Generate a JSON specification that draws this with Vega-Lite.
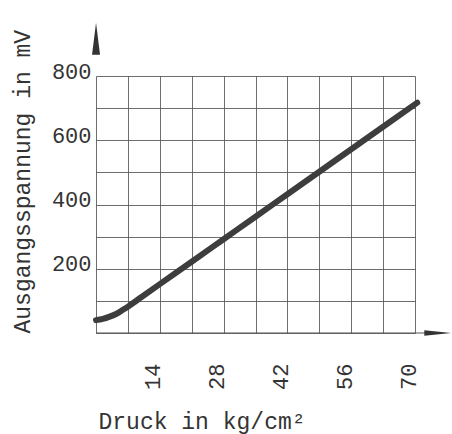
{
  "$schema": "https://vega.github.io/schema/vega-lite/v6.json",
  "autosize": "none",
  "width": 319,
  "height": 257,
  "padding": {"left": 96, "top": 76, "right": 37, "bottom": 101},
  "background": "white",
  "config": {
    "view": {"stroke": null},
    "font": "Liberation Mono",
    "axis": {"labelFont": "Liberation Mono", "titleFont": "Liberation Mono", "labelColor": "#333", "titleColor": "#333", "titleFontWeight": "normal"}
  },
  "datasets": {
    "curve": [
      {"druck": 0, "spannung": 40},
      {"druck": 1.5, "spannung": 44},
      {"druck": 3, "spannung": 51},
      {"druck": 4.5, "spannung": 60},
      {"druck": 6, "spannung": 73},
      {"druck": 7, "spannung": 82},
      {"druck": 10, "spannung": 112},
      {"druck": 14, "spannung": 152},
      {"druck": 21, "spannung": 222},
      {"druck": 28, "spannung": 292},
      {"druck": 35, "spannung": 362},
      {"druck": 42, "spannung": 432},
      {"druck": 49, "spannung": 502},
      {"druck": 56, "spannung": 572},
      {"druck": 63, "spannung": 642},
      {"druck": 70.5, "spannung": 717}
    ],
    "xline": [{"druck": 0, "druck2": 73, "spannung": 0}],
    "upArrow": [{"druck": 0, "spannung": 916}],
    "rightArrow": [{"druck": 75, "spannung": 0}]
  },
  "resolve": {"axis": {"x": "independent", "y": "independent"}},
  "layer": [
    {
      "data": {"name": "xline"},
      "mark": {"type": "rule", "color": "#555", "strokeWidth": 1},
      "encoding": {
        "x": {
          "field": "druck", "type": "quantitative",
          "scale": {"domain": [0, 70], "nice": false, "zero": false},
          "axis": {
            "orient": "bottom",
            "values": [0, 7, 14, 21, 28, 35, 42, 49, 56, 63, 70],
            "labels": false, "title": null,
            "grid": true, "gridColor": "#555", "gridWidth": 1, "gridOpacity": 0.85,
            "domain": false, "ticks": false
          }
        },
        "x2": {"field": "druck2"},
        "y": {
          "field": "spannung", "type": "quantitative",
          "scale": {"domain": [0, 800], "nice": false, "zero": false},
          "axis": {
            "orient": "left",
            "values": [0, 100, 200, 300, 400, 500, 600, 700, 800],
            "labels": false, "title": null,
            "grid": true, "gridColor": "#555", "gridWidth": 1, "gridOpacity": 0.85,
            "domain": false, "ticks": false
          }
        }
      }
    },
    {
      "data": {"name": "curve"},
      "mark": {"type": "line", "interpolate": "monotone", "strokeWidth": 6, "color": "#3d3d3d", "strokeCap": "round"},
      "encoding": {
        "x": {
          "field": "druck", "type": "quantitative",
          "scale": {"domain": [0, 70], "nice": false, "zero": false},
          "axis": {
            "orient": "bottom",
            "values": [14, 28, 42, 56, 70],
            "grid": false, "domain": false, "ticks": false,
            "labelAngle": -90, "labelFontSize": 22, "labelPadding": 30, "labelOffset": -7,
            "title": "Druck in kg/cm²", "titleFontSize": 23,
            "titleAnchor": "start", "titleAlign": "left", "titleBaseline": "alphabetic",
            "titleX": 2, "titleY": 95
          }
        },
        "y": {
          "field": "spannung", "type": "quantitative",
          "scale": {"domain": [0, 800], "nice": false, "zero": false},
          "axis": {
            "orient": "left",
            "values": [200, 400, 600, 800],
            "grid": false, "domain": false, "ticks": false,
            "labelFontSize": 22, "labelPadding": 5, "labelBaseline": "alphabetic", "labelOffset": 2,
            "title": "Ausgangsspannung in mV", "titleFontSize": 23,
            "titleAngle": -90, "titleAlign": "left", "titleBaseline": "middle",
            "titleX": -74, "titleY": 257
          }
        }
      }
    },
    {
      "data": {"name": "upArrow"},
      "mark": {"type": "point", "shape": "M0,-1L0.25,1L-0.25,1Z", "filled": true, "color": "#333", "size": 1024, "opacity": 1},
      "encoding": {
        "x": {"field": "druck", "type": "quantitative", "axis": null},
        "y": {"field": "spannung", "type": "quantitative", "axis": null}
      }
    },
    {
      "data": {"name": "rightArrow"},
      "mark": {"type": "point", "shape": "M1,0L-1,-0.2L-1,0.2Z", "filled": true, "color": "#333", "size": 729, "opacity": 1},
      "encoding": {
        "x": {"field": "druck", "type": "quantitative", "axis": null},
        "y": {"field": "spannung", "type": "quantitative", "axis": null}
      }
    }
  ]
}
